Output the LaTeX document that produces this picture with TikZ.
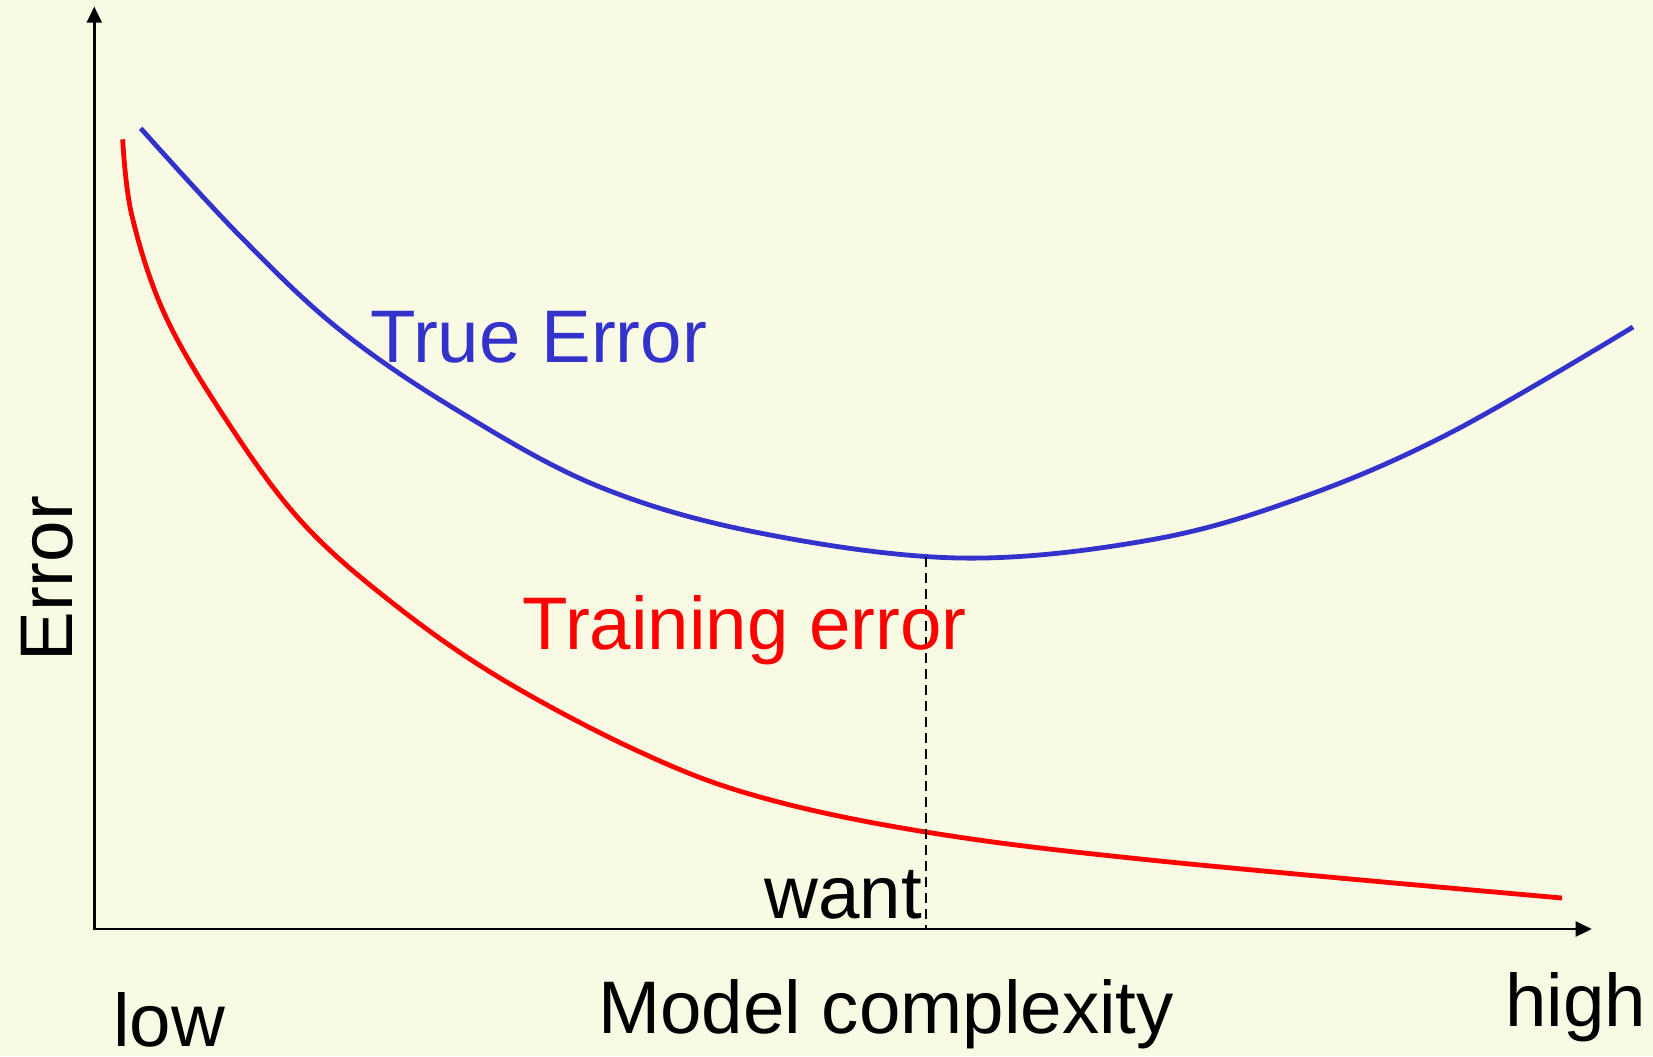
\documentclass[tikz,border=0pt]{standalone}
\usepackage{fontspec}
\setmainfont{Liberation Sans}
\usetikzlibrary{arrows.meta}
\definecolor{bg}{RGB}{249,250,228}
\definecolor{trueblue}{RGB}{51,51,204}
\definecolor{trainred}{RGB}{255,0,0}
\begin{document}
\begin{tikzpicture}[x=0.5pt,y=-0.5pt,
  lbl/.style={inner sep=0pt, anchor=base west, font=\fontsize{37.25}{40}\selectfont},
  axisline/.style={line width=1.2pt, {Triangle[length=8pt,width=7.5pt]}-{Triangle[length=8pt,width=7.5pt]}},
  curveline/.style={line width=2.4pt, line join=round},
  wantline/.style={line width=1pt, dash pattern=on 5pt off 3pt}]

\fill[bg] (0,0) rectangle (1653,1056);
\useasboundingbox (0,0) rectangle (1653,1056);

% axes
\coordinate (O) at (94.3,929);
\coordinate (Ytip) at (94.3,6.7);
\coordinate (Xtip) at (1591.7,929);
\draw[axisline] (Ytip) -- (O) -- (Xtip);

% true error curve
\draw[trueblue, curveline] plot[smooth, tension=0.6] coordinates {
  (140.7,128.3) (240,236) (340,330) (460,412) (600,487) (760,533)
  (960,558) (1150,540) (1300,498) (1450,433) (1633,327)};

% training error curve
\draw[trainred, curveline] plot[smooth, tension=0.6] coordinates {
  (122.7,139.3) (132,216) (165,315) (225,418) (300,520) (390,601)
  (500,678) (640,752) (760,797) (926,832) (1150,860) (1562,898)};

% want marker
\coordinate (wanttop) at (926,557);
\coordinate (wantbot) at (926,929);
\draw[wantline] (wanttop) -- (wantbot);

% labels
\node[lbl, text=trueblue] (trueerr) at (370,362) {True Error};
\node[lbl, text=trainred] (trainerr) at (522,649) {Training error};
\node[lbl] (want) at (764,918) {want};
\node[lbl] (xlabel) at (598,1033) {Model complexity};
\node[lbl] (low) at (113,1046) {low};
\node[lbl] (high) at (1505,1026) {high};
\node[lbl, rotate=90] (ylabel) at (72,662) {Error};
\end{tikzpicture}
\end{document}
